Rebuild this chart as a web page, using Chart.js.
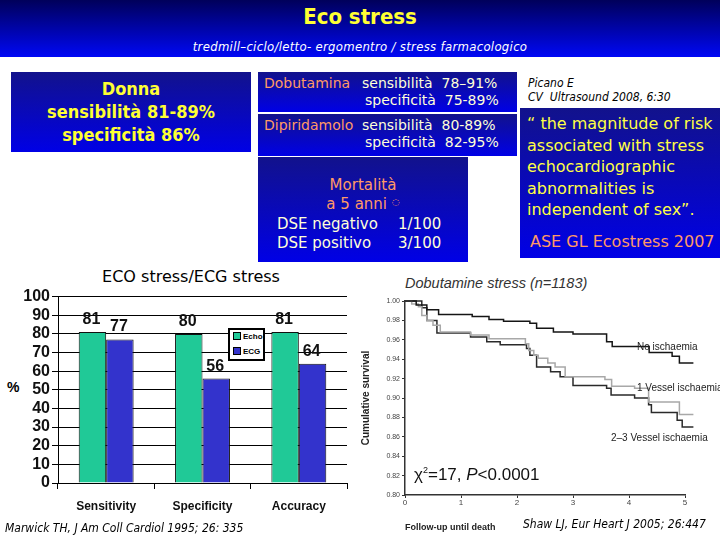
<!DOCTYPE html>
<html>
<head>
<meta charset="utf-8">
<script src="https://cdn.jsdelivr.net/npm/chart.js@4/dist/chart.umd.min.js"></script>
<style>
  body { margin:0; background:#fff; }
  #slide { position:relative; width:720px; height:540px; overflow:hidden; background:#fff; font-family:"DejaVu Sans", Verdana, sans-serif; }
  .abs { position:absolute; }
  #header { left:0; top:0; width:720px; height:57px; background:linear-gradient(to bottom, #00005a, #0008f5); }
  #title { left:0; top:4px; width:720px; text-align:center; color:#ffff33; font:bold 22px "DejaVu Sans Condensed", "DejaVu Sans", sans-serif; }
  #subtitle { left:0; top:39px; width:720px; text-align:center; color:#fff; font:italic 13px "DejaVu Sans Condensed", "DejaVu Sans", sans-serif; letter-spacing:0.3px; }
  .box { background:linear-gradient(to bottom, #12128c, #0000e6); }
  #donna { left:11px; top:72px; width:240px; height:80px; color:#ffff33; font:bold 18px "DejaVu Sans Condensed", "DejaVu Sans", sans-serif; text-align:center; line-height:23px; padding-top:5px; box-sizing:border-box; }
  .drug { left:258px; width:259px; height:40px; font:14px "DejaVu Sans", sans-serif; color:#ffffd8; }
  .drug .name { position:absolute; left:6px; top:3px; color:#ff9966; }
  .drug .l1 { position:absolute; left:104px; top:3px; white-space:pre; }
  .drug .l2 { position:absolute; left:107px; top:20px; white-space:pre; }
  #mort { left:258px; top:157px; width:210px; height:105px; font:15px "DejaVu Sans", sans-serif; color:#ffffd8; }
  #quote { left:520px; top:108px; width:200px; height:150px; font:16px "DejaVu Sans", sans-serif; color:#ffff44; line-height:21.5px; }
  .cite { font:italic 12px "DejaVu Sans Condensed", "DejaVu Sans", sans-serif; color:#000; white-space:nowrap; }
  #barTitle { left:0; top:267px; width:382px; text-align:center; font:16px "DejaVu Sans", sans-serif; color:#000; }
  #legend { left:228px; top:328px; width:37px; height:33px; background:#fff; border:2px solid #000; box-sizing:border-box; font:bold 8px "Liberation Sans", Arial, sans-serif; }
  #legend div { position:absolute; left:3px; white-space:nowrap; }
  #legend span { display:inline-block; width:6px; height:6px; border:1px solid #000; margin-right:2px; vertical-align:-1px; }
  .curveLbl { font:10px "Liberation Sans", Arial, sans-serif; color:#222; white-space:nowrap; }
</style>
</head>
<body>
<div id="slide">
  <div id="header" class="abs"></div>
  <div id="title" class="abs">Eco stress</div>
  <div id="subtitle" class="abs">tredmill–ciclo/letto- ergomentro / stress farmacologico</div>

  <div id="donna" class="abs box">Donna<br>sensibilità 81-89%<br>specificità 86%</div>

  <div class="abs box drug" style="top:72px;">
    <div class="name">Dobutamina</div>
    <div class="l1">sensibilità  78–91%</div>
    <div class="l2">specificità  75-89%</div>
  </div>
  <div class="abs box drug" style="top:114px; height:42px;">
    <div class="name">Dipiridamolo</div>
    <div class="l1">sensibilità  80-89%</div>
    <div class="l2">specificità  82-95%</div>
  </div>

  <div id="mort" class="abs box">
    <div class="abs" style="left:0; top:19px; width:210px; text-align:center; color:#ff9966;">Mortalità</div>
    <div class="abs" style="left:0; top:38px; width:210px; text-align:center; color:#ff9966;">a 5 anni <span style="font-size:9px; vertical-align:4px;">◌</span></div>
    <div class="abs" style="left:19px; top:58px; white-space:nowrap;">DSE negativo</div>
    <div class="abs" style="left:140px; top:58px; white-space:nowrap;">1/100</div>
    <div class="abs" style="left:19px; top:77px; white-space:nowrap;">DSE positivo</div>
    <div class="abs" style="left:140px; top:77px; white-space:nowrap;">3/100</div>
  </div>

  <div class="abs cite" style="left:528px; top:76px;">Picano E</div>
  <div class="abs cite" style="left:528px; top:90px;">CV&nbsp; Ultrasound 2008, 6:30</div>

  <div id="quote" class="abs box">
    <div class="abs" style="left:7px; top:5px; white-space:nowrap;">“ the magnitude of risk<br>associated with stress<br>echocardiographic<br>abnormalities is<br>independent of sex”.</div>
    <div class="abs" style="left:10px; top:123px; color:#ff9966; white-space:nowrap;">ASE GL Ecostress 2007</div>
  </div>

  <div id="barTitle" class="abs">ECO stress/ECG stress</div>
  <div class="abs" style="left:7px; top:379px; font:bold 14px 'Liberation Sans', Arial, sans-serif;">%</div>
  <div class="abs" style="left:0; top:285px; width:360px; height:240px;"><canvas id="barChart" width="360" height="240"></canvas></div>
  <div id="legend" class="abs">
    <div style="top:2px;"><span style="background:#20c997;"></span>Echo</div>
    <div style="top:17px;"><span style="background:#3333cc;"></span>ECG</div>
  </div>
  <div class="abs cite" style="left:5px; top:521px;">Marwick TH, J Am Coll Cardiol 1995; 26: 335</div>

  <div class="abs" style="left:405px; top:275px; font:italic 14.5px 'Liberation Sans', Arial, sans-serif; color:#333;">Dobutamine stress (n=1183)</div>
  <div class="abs" style="left:360px; top:290px; width:360px; height:230px;"><canvas id="survChart" width="360" height="230"></canvas></div>
  <div class="abs curveLbl" style="left:637px; top:341px;">No ischaemia</div>
  <div class="abs curveLbl" style="left:637px; top:382px;">1 Vessel ischaemia</div>
  <div class="abs curveLbl" style="left:611px; top:432px;">2–3 Vessel ischaemia</div>
  <div class="abs" style="left:414px; top:465px; font:17px 'Liberation Sans', Arial, sans-serif; color:#111;">χ<sup style="font-size:9px;">2</sup>=17, <i>P</i>&lt;0.0001</div>
  <div class="abs" style="left:405px; top:522px; font:bold 9px 'Liberation Sans', Arial, sans-serif; color:#222;">Follow-up until death</div>
  <div class="abs cite" style="left:523px; top:517px;">Shaw LJ, Eur Heart J 2005; 26:447</div>
</div>

<script>
// bar chart data (Marwick 1995)
var categories = ["Sensitivity", "Specificity", "Accuracy"];
var echoValues = [81, 80, 81];
var ecgValues = [77, 56, 64];
var yTicksBar = [0, 10, 20, 30, 40, 50, 60, 70, 80, 90, 100];

// survival curves (Shaw 2005), x = years, y = cumulative survival
var noIschX = [0, 0.2, 0.39, 0.6, 1.2, 1.5, 1.76, 2.23, 2.35, 2.65, 3.0, 3.6, 3.7, 4.36, 4.77, 4.9, 5.15];
var noIschY = [1.0, 0.996, 0.991, 0.986, 0.984, 0.981, 0.979, 0.977, 0.972, 0.968, 0.966, 0.958, 0.953, 0.947, 0.943, 0.936, 0.936];
var oneVesX = [0, 0.12, 0.24, 0.3, 0.39, 0.5, 0.63, 1.17, 1.5, 2.15, 2.21, 2.3, 2.38, 2.55, 2.68, 2.86, 3.57, 3.69, 4.1, 4.35, 4.9, 5.15];
var oneVesY = [1.0, 0.997, 0.994, 0.985, 0.98, 0.975, 0.968, 0.965, 0.961, 0.956, 0.949, 0.944, 0.941, 0.936, 0.932, 0.922, 0.919, 0.912, 0.91, 0.896, 0.883, 0.883];
var twoVesX = [0, 0.3, 0.39, 0.57, 1.17, 1.46, 1.7, 2.17, 2.23, 2.35, 2.6, 2.77, 3.0, 3.6, 3.68, 4.1, 4.35, 4.4, 4.86, 4.95, 5.15];
var twoVesY = [1.0, 0.993, 0.98, 0.967, 0.963, 0.958, 0.955, 0.951, 0.944, 0.932, 0.927, 0.922, 0.913, 0.91, 0.903, 0.9, 0.893, 0.885, 0.877, 0.87, 0.87];
var survTicksY = [0.80, 0.82, 0.84, 0.86, 0.88, 0.90, 0.92, 0.94, 0.96, 0.98, 1.00];

function toPoints(xs, ys) {
    var pts = [];
    for (var i = 0; i < xs.length; i++) {
        pts.push({x: xs[i], y: ys[i]});
    }
    return pts;
}

// value labels above bars
var barLabels = {
    id: 'barLabels',
    afterDatasetsDraw: function(chart) {
        var ctx = chart.ctx;
        ctx.save();
        ctx.font = 'bold 16px "Liberation Sans Narrow", "Arial Narrow", sans-serif';
        ctx.fillStyle = '#111';
        ctx.textAlign = 'center';
        chart.data.datasets.forEach(function(ds, i) {
            chart.getDatasetMeta(i).data.forEach(function(bar, j) {
                ctx.fillText(ds.data[j], bar.x - 1, bar.y - 8);
            });
        });
        ctx.restore();
    }
};

var barChart = new Chart(document.getElementById('barChart').getContext('2d'), {
    type: 'bar',
    data: {
        labels: categories,
        datasets: [{
            label: 'Echo',
            data: echoValues,
            backgroundColor: '#20c997',
            borderColor: '#111',
            borderWidth: 1,
            barPercentage: 1.0,
            categoryPercentage: 0.57
        }, {
            label: 'ECG',
            data: ecgValues,
            backgroundColor: '#3333cc',
            borderColor: '#111',
            borderWidth: 1,
            barPercentage: 1.0,
            categoryPercentage: 0.57
        }]
    },
    options: {
        responsive: false,
        animation: false,
        layout: { padding: { top: 10, right: 13, left: 0, bottom: 0 } },
        plugins: { legend: { display: false }, tooltip: { enabled: false } },
        scales: {
            x: {
                afterFit: function(s) { s.height = 42; },
                grid: { drawOnChartArea: false, drawTicks: true, tickLength: 6, color: '#000', offset: true },
                border: { color: '#000', width: 1 },
                ticks: { color: '#111', padding: 10, font: { family: '"Liberation Sans", Arial, sans-serif', size: 12, weight: 'bold' } }
            },
            y: {
                min: 0, max: 100,
                afterFit: function(s) { s.width = 58; },
                afterBuildTicks: function(s) { s.ticks = yTicksBar.map(function(v) { return {value: v}; }); },
                grid: { color: '#000', lineWidth: 1, tickLength: 6 },
                border: { color: '#000', width: 1 },
                ticks: { autoSkip: false, color: '#111', padding: 2, font: { family: '"Liberation Sans Narrow", "Arial Narrow", sans-serif', size: 16, weight: 'bold' } }
            }
        }
    },
    plugins: [barLabels]
});

var survChart = new Chart(document.getElementById('survChart').getContext('2d'), {
    type: 'line',
    data: {
        datasets: [{
            label: 'No ischaemia',
            data: toPoints(noIschX, noIschY),
            borderColor: '#151515',
            borderWidth: 1.5,
            stepped: 'before',
            pointRadius: 0,
            clip: false
        }, {
            label: '1 Vessel ischaemia',
            data: toPoints(oneVesX, oneVesY),
            borderColor: '#a8a8a8',
            borderWidth: 1.5,
            stepped: 'before',
            pointRadius: 0,
            clip: false
        }, {
            label: '2-3 Vessel ischaemia',
            data: toPoints(twoVesX, twoVesY),
            borderColor: '#2a2a2a',
            borderWidth: 1.5,
            stepped: 'before',
            pointRadius: 0,
            clip: false
        }]
    },
    options: {
        responsive: false,
        animation: false,
        layout: { padding: { top: 11, right: 35, left: 0, bottom: 0 } },
        plugins: { legend: { display: false }, tooltip: { enabled: false } },
        scales: {
            x: {
                type: 'linear', min: 0, max: 5,
                afterFit: function(s) { s.height = 25; },
                grid: { drawOnChartArea: false, tickLength: 3, color: '#333' },
                border: { color: '#333', width: 1.5 },
                ticks: { stepSize: 1, color: '#444', padding: 0, font: { family: '"Liberation Sans", Arial, sans-serif', size: 8 } }
            },
            y: {
                min: 0.8, max: 1.0,
                afterFit: function(s) { s.width = 45; },
                afterBuildTicks: function(s) { s.ticks = survTicksY.map(function(v) { return {value: v}; }); },
                grid: { drawOnChartArea: false, tickLength: 3, color: '#333' },
                border: { color: '#333', width: 1.5 },
                title: { display: true, text: 'Cumulative survival', color: '#222', padding: 0, font: { family: '"Liberation Sans", Arial, sans-serif', size: 10, weight: 'bold' } },
                ticks: {
                    autoSkip: false,
                    color: '#444', padding: 2,
                    font: { family: '"Liberation Sans", Arial, sans-serif', size: 7 },
                    callback: function(v) { return v.toFixed(2); }
                }
            }
        }
    }
});
</script>
</body>
</html>
